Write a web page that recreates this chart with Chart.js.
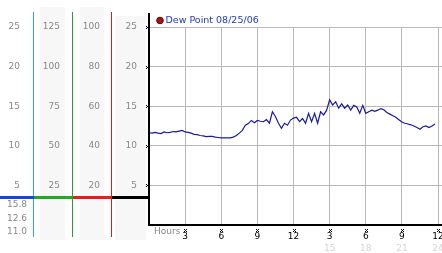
<!DOCTYPE html>
<html>
<head>
<meta charset="utf-8">
<script src="https://cdn.jsdelivr.net/npm/chart.js@4"></script>
<style>
  html, body { margin: 0; padding: 0; background: #fff; }
  canvas { display: block; }
</style>
</head>
<body>
<canvas id="dewChart" width="442" height="253"></canvas>
<script>
// readings every 15 minutes, hours since midnight
const hours = [
    0, 0.25, 0.5, 0.75, 1, 1.25, 1.5, 1.75, 2, 2.25, 2.5, 2.75,
    3, 3.25, 3.5, 3.75, 4, 4.25, 4.5, 4.75, 5, 5.25, 5.5, 5.75,
    6, 6.25, 6.5, 6.75, 7, 7.25, 7.5, 7.75, 8, 8.25, 8.5, 8.75,
    9, 9.25, 9.5, 9.75, 10, 10.25, 10.5, 10.75, 11, 11.25, 11.5, 11.75,
    12, 12.25, 12.5, 12.75, 13, 13.25, 13.5, 13.75, 14, 14.25, 14.5, 14.75,
    15, 15.25, 15.5, 15.75, 16, 16.25, 16.5, 16.75, 17, 17.25, 17.5, 17.75,
    18, 18.25, 18.5, 18.75, 19, 19.25, 19.5, 19.75, 20, 20.25, 20.5, 20.75,
    21, 21.25, 21.5, 21.75, 22, 22.25, 22.5, 22.75, 23, 23.25, 23.5, 23.75
];
const dewPoint = [
    11.65, 11.6, 11.7, 11.6, 11.55, 11.75, 11.65, 11.7, 11.8, 11.75, 11.85, 11.95,
    11.75, 11.7, 11.6, 11.45, 11.4, 11.3, 11.25, 11.15, 11.2, 11.2, 11.1, 11.05,
    11.0, 11.0, 11.0, 11.0, 11.1, 11.3, 11.6, 11.95, 12.6, 12.8, 13.2, 12.9,
    13.2, 13.1, 13.05, 13.3, 12.85, 14.3, 13.7, 12.85, 12.2, 12.85, 12.6, 13.25,
    13.5, 13.6, 13.05, 13.45, 12.85, 14.1, 13.05, 14.1, 12.85, 14.3, 13.9, 14.5,
    15.8, 15.15, 15.55, 14.75, 15.3, 14.75, 15.15, 14.5, 15.1, 14.9, 14.1, 15.1,
    14.1, 14.3, 14.5, 14.35, 14.5, 14.7, 14.55, 14.2, 14.0, 13.8, 13.6, 13.3,
    13.0, 12.85, 12.75, 12.65, 12.5, 12.3, 12.1, 12.4, 12.5, 12.3, 12.5, 12.75
];
const seriesLabel = "Dew Point 08/25/06";
const dewStats = ["15.8", "12.6", "11.0"]; // max, avg, min

// x axis ticks
const hourTicks = [0, 3, 6, 9, 12, 15, 18, 21, 24];
const hourLabels = ["", "3", "6", "9", "12", "3", "6", "9", "12"];
const clockLabels = ["", "", "", "", "", "15", "18", "21", "24"];

// left side scales
const blueTicks = ["", "5", "10", "15", "20", "25"];
const greenTicks = ["", "25", "50", "75", "100", "125"];
const redTicks = ["", "20", "40", "60", "80", "100"];
const dewTicks = ["", "5", "10", "15", "20", "25"];

Chart.defaults.font.family = "DejaVu Sans";
Chart.defaults.font.size = 9;

const fixWidth = (w) => (scale) => { scale.width = w; };
const fixHeight = (h) => (scale) => { scale.height = h; scale.paddingLeft = 0; scale.paddingRight = 0; };
const setHourTicks = (scale) => { scale.ticks = hourTicks.map(v => ({ value: v })); };

function mark(ctx, cx, cy) {
    ctx.fillRect(cx - 1, cy - 1, 1, 1);
    ctx.fillRect(cx + 1, cy - 1, 1, 1);
    ctx.fillRect(cx, cy, 1, 1);
    ctx.fillRect(cx - 1, cy + 1, 1, 1);
    ctx.fillRect(cx + 1, cy + 1, 1, 1);
}

const decorations = {
    id: "decorations",
    beforeDraw(chart) {
        const { ctx, chartArea: a, scales: s } = chart;
        ctx.save();
        ctx.fillStyle = "#f7f7f7";
        ctx.fillRect(s.y2.left + 6, a.top - 20, s.y2.width - 14, a.bottom - a.top + 35);
        ctx.fillRect(s.y3.left + 7, a.top - 20, s.y3.width - 15, a.bottom - a.top + 35);
        ctx.fillRect(s.y.left + 3, a.top - 11, s.y.width - 6, a.bottom - a.top + 26);
        ctx.restore();
    },
    afterDraw(chart) {
        const { ctx, chartArea: a, scales: s } = chart;
        ctx.save();

        // coloured scale lines
        [[s.y1, "#3b9ee0"], [s.y2, "#2a9e2a"], [s.y3, "#c82424"]].forEach(([sc, col]) => {
            ctx.fillStyle = col;
            ctx.fillRect(sc.right - 1, a.top - 15, 1, a.bottom - a.top + 27);
        });
        ctx.fillStyle = "#000";
        ctx.fillRect(a.left - 1, a.top - 14, 2, a.bottom - a.top + 14);

        // separator above the stats
        const sy = Math.round(s.y.getPixelForValue(3.5));
        ctx.fillStyle = "#1646d8"; ctx.fillRect(0, sy - 1, s.y1.right, 3);
        ctx.fillStyle = "#22aa22"; ctx.fillRect(s.y2.left, sy - 1, s.y2.width, 3);
        ctx.fillStyle = "#e02020"; ctx.fillRect(s.y3.left, sy - 1, s.y3.width, 3);
        ctx.fillStyle = "#000"; ctx.fillRect(s.y.left, sy - 1, s.y.width, 3);

        ctx.font = "9px 'DejaVu Sans'";
        ctx.fillStyle = "#888";
        ctx.textAlign = "right";
        ctx.textBaseline = "middle";
        dewStats.forEach((t, i) => ctx.fillText(t, 27, sy + 8 + i * 13.5));

        ctx.textAlign = "left";
        ctx.fillText("Hours", a.left + 5, a.bottom + 7);

        // small tick marks
        ctx.fillStyle = "#000";
        [5, 10, 15, 20, 25].forEach(v => mark(ctx, a.left - 2, Math.round(s.y.getPixelForValue(v))));
        hourTicks.slice(1).forEach(h => mark(ctx, Math.round(s.x.getPixelForValue(h)), a.bottom + 5));

        // legend
        const ds = chart.data.datasets[0];
        ctx.fillStyle = "#a01818";
        ctx.strokeStyle = "#600";
        ctx.beginPath();
        ctx.arc(a.left + 11, a.top - 6.5, 3.3, 0, Math.PI * 2);
        ctx.fill();
        ctx.stroke();
        ctx.fillStyle = "#1e3cc4";
        ctx.font = "9.5px 'DejaVu Sans'";
        ctx.fillText(ds.label, a.left + 16.5, a.top - 6.5);
        ctx.restore();
    }
};

new Chart(document.getElementById("dewChart").getContext("2d"), {
    type: "line",
    data: {
        datasets: [{
            label: seriesLabel,
            data: hours.map((h, i) => ({ x: h, y: dewPoint[i] })),
            borderColor: "#1a1aa0",
            borderWidth: 1.2,
            pointRadius: 0,
            tension: 0,
            yAxisID: "y",
        }],
    },
    options: {
        responsive: false,
        animation: false,
        layout: { padding: { top: 27, right: 0, bottom: 0, left: 0 } },
        plugins: { legend: { display: false }, tooltip: { enabled: false } },
        scales: {
            x: {
                type: "linear", position: "bottom", weight: 0,
                min: 0, max: 24.33,
                afterBuildTicks: setHourTicks,
                afterFit: fixHeight(16),
                grid: { color: "#b8b8b8", drawTicks: false },
                border: { display: true, color: "#000", width: 2 },
                ticks: { color: "#000", padding: 6, maxRotation: 0, autoSkip: false,
                    callback: (v, i) => hourLabels[i] },
            },
            x2: {
                type: "linear", position: "bottom", weight: 1,
                min: 0, max: 24.33,
                afterBuildTicks: setHourTicks,
                afterFit: fixHeight(12),
                grid: { display: false, drawTicks: false },
                border: { display: false },
                ticks: { color: "#d4d4d4", padding: 2, maxRotation: 0, autoSkip: false,
                    callback: (v, i) => clockLabels[i] },
            },
            y: {
                position: "left", weight: 0,
                min: 0, max: 25,
                afterFit: fixWidth(37),
                grid: { color: "#b8b8b8", drawTicks: false },
                border: { display: false },
                ticks: { stepSize: 5, color: "#888", padding: 12, callback: (v, i) => dewTicks[i] },
            },
            y3: {
                position: "left", weight: 1,
                min: 0, max: 100,
                afterFit: fixWidth(39),
                grid: { display: false, drawTicks: false },
                border: { display: false },
                ticks: { stepSize: 20, color: "#888", padding: 12, callback: (v, i) => redTicks[i] },
            },
            y2: {
                position: "left", weight: 2,
                min: 0, max: 125,
                afterFit: fixWidth(39),
                grid: { display: false, drawTicks: false },
                border: { display: false },
                ticks: { stepSize: 25, color: "#888", padding: 13, callback: (v, i) => greenTicks[i] },
            },
            y1: {
                position: "left", weight: 3,
                min: 0, max: 25,
                afterFit: fixWidth(34),
                grid: { display: false, drawTicks: false },
                border: { display: false },
                ticks: { stepSize: 5, color: "#888", padding: 14, callback: (v, i) => blueTicks[i] },
            },
        },
    },
    plugins: [decorations],
});
</script>
</body>
</html>
